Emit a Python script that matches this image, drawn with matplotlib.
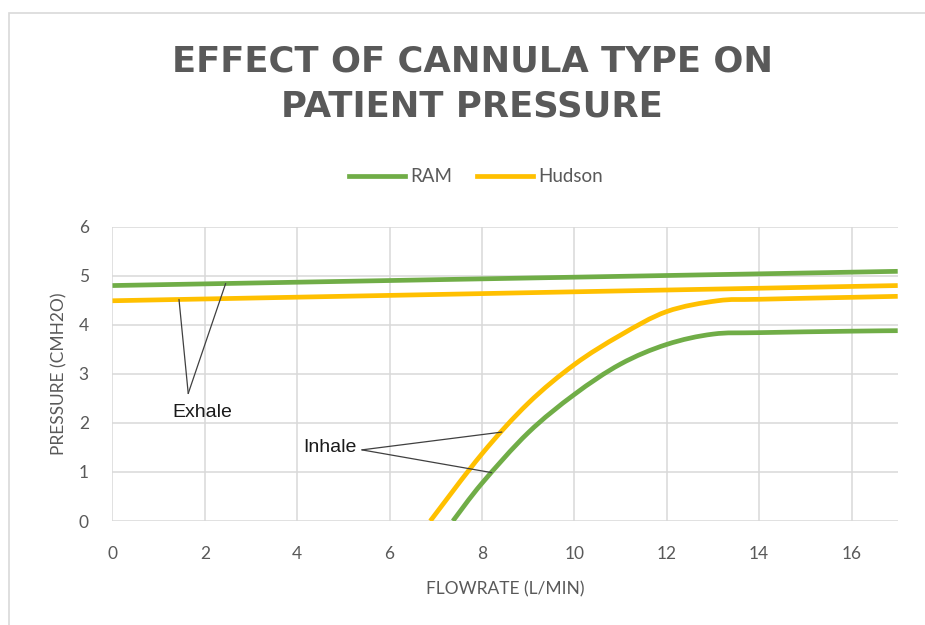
import numpy as np
import matplotlib

matplotlib.use("Agg")
import matplotlib.pyplot as plt  # noqa: E402
from matplotlib.patches import Rectangle, PathPatch  # noqa: E402
from matplotlib.path import Path  # noqa: E402
from matplotlib.lines import Line2D  # noqa: E402

# Valores
ram_exhale_x = [0, 17]
ram_exhale_y = [4.80, 5.09]
hudson_exhale_x = [0, 17]
hudson_exhale_y = [4.49, 4.80]

ram_inhale_x = [7.37, 8, 9, 10, 11, 12, 13, 14, 16, 17]
ram_inhale_y = [0, 0.77, 1.80, 2.58, 3.20, 3.60, 3.81, 3.84, 3.87, 3.88]
hudson_inhale_x = [6.88, 8, 9, 10, 11, 12, 13.1, 14, 16, 17]
hudson_inhale_y = [0, 1.37, 2.40, 3.19, 3.79, 4.27, 4.49, 4.52, 4.56, 4.58]

series_names = ["RAM", "Hudson"]
series_colors = ["#70AD47", "#FFC000"]
x_ticks = [0, 2, 4, 6, 8, 10, 12, 14, 16]
y_ticks = [0, 1, 2, 3, 4, 5, 6]

TEXT = "#595959"
GRID = "#D9D9D9"
LW = 3.4


def smooth_path(xs, ys):
    """Linha suavizada (estilo Excel): Bezier cubica passando pelos pontos."""
    p = np.column_stack([xs, ys]).astype(float)
    verts = [p[0]]
    codes = [Path.MOVETO]
    n = len(p)
    for i in range(n - 1):
        p0 = p[i - 1] if i > 0 else p[i]
        p3 = p[i + 2] if i + 2 < n else p[i + 1]
        c1 = p[i] + (p[i + 1] - p0) / 6.0
        c2 = p[i + 1] - (p3 - p[i]) / 6.0
        verts += [c1, c2, p[i + 1]]
        codes += [Path.CURVE4] * 3
    return Path(verts, codes)


fig = plt.figure(figsize=(9.25, 6.25), dpi=100)
ax = fig.add_axes([0.1216, 0.1664, 0.8489, 0.4709])

ax.plot(ram_exhale_x, ram_exhale_y, color=series_colors[0], lw=LW, solid_capstyle="butt", zorder=3)
ax.plot(hudson_exhale_x, hudson_exhale_y, color=series_colors[1], lw=LW, solid_capstyle="butt", zorder=3)
for xs, ys, c in [(ram_inhale_x, ram_inhale_y, series_colors[0]),
                  (hudson_inhale_x, hudson_inhale_y, series_colors[1])]:
    ax.add_patch(PathPatch(smooth_path(xs, ys), fill=False, edgecolor=c, lw=LW,
                           capstyle="butt", zorder=3))

ax.set_xlim(0, 17)
ax.set_ylim(0, 6)
ax.set_xticks(x_ticks)
ax.set_yticks(y_ticks)
ax.grid(True, color=GRID, lw=1.1, zorder=0)
ax.set_axisbelow(True)
for s in ax.spines.values():
    s.set_visible(False)
ax.tick_params(length=0, labelcolor=TEXT, labelsize=12.5)
ax.tick_params(axis="x", pad=18)
ax.tick_params(axis="y", pad=17)
for lab in ax.get_xticklabels() + ax.get_yticklabels():
    lab.set_fontfamily("Lato")

ax.set_xlabel("FLOWRATE (L/MIN)", color=TEXT, fontsize=12.5, family="Lato", labelpad=14)
ax.set_ylabel("PRESSURE (CMH2O)", color=TEXT, fontsize=12.5, family="Lato", labelpad=8)

# Chamadas de texto (Exhale / Inhale)
lead = dict(arrowstyle="-", color="#404040", lw=0.9, shrinkA=0, shrinkB=0)
ax.text(1.95, 2.22, "Exhale", ha="center", va="center", fontsize=14, family="Liberation Sans", color="#1a1a1a")
for xe, xs, ys in [(1.44, hudson_exhale_x, hudson_exhale_y), (2.45, ram_exhale_x, ram_exhale_y)]:
    ax.annotate("", xy=(xe, np.interp(xe, xs, ys)), xytext=(1.64, 2.6), arrowprops=lead)
ax.text(4.70, 1.49, "Inhale", ha="center", va="center", fontsize=14, family="Liberation Sans", color="#1a1a1a")
for xe, xs, ys in [(8.43, hudson_inhale_x, hudson_inhale_y), (8.21, ram_inhale_x, ram_inhale_y)]:
    ax.annotate("", xy=(xe, np.interp(xe, xs, ys)), xytext=(5.40, 1.45), arrowprops=lead)

fig.text(472 / 925, 1 - 84 / 625, "EFFECT OF CANNULA TYPE ON\nPATIENT PRESSURE",
         ha="center", va="center", fontsize=25.5, fontweight="bold", family="DejaVu Sans",
         color=TEXT, linespacing=1.4)

handles = [Line2D([], [], color=c, lw=LW) for c in series_colors]
fig.legend(handles, series_names, loc="center", bbox_to_anchor=(476 / 925, 1 - 177 / 625),
           ncol=2, frameon=False, handlelength=3.0, handletextpad=0.3, columnspacing=1.3,
           prop={"family": "Lato", "size": 13.5}, labelcolor=TEXT)

fig.add_artist(Rectangle((9 / 925, -0.05), 1.2, 1 - 13 / 625 + 0.05, transform=fig.transFigure,
                         fill=False, edgecolor=GRID, lw=1.2))

fig.savefig("out.png", dpi=100)
plt.close(fig)
